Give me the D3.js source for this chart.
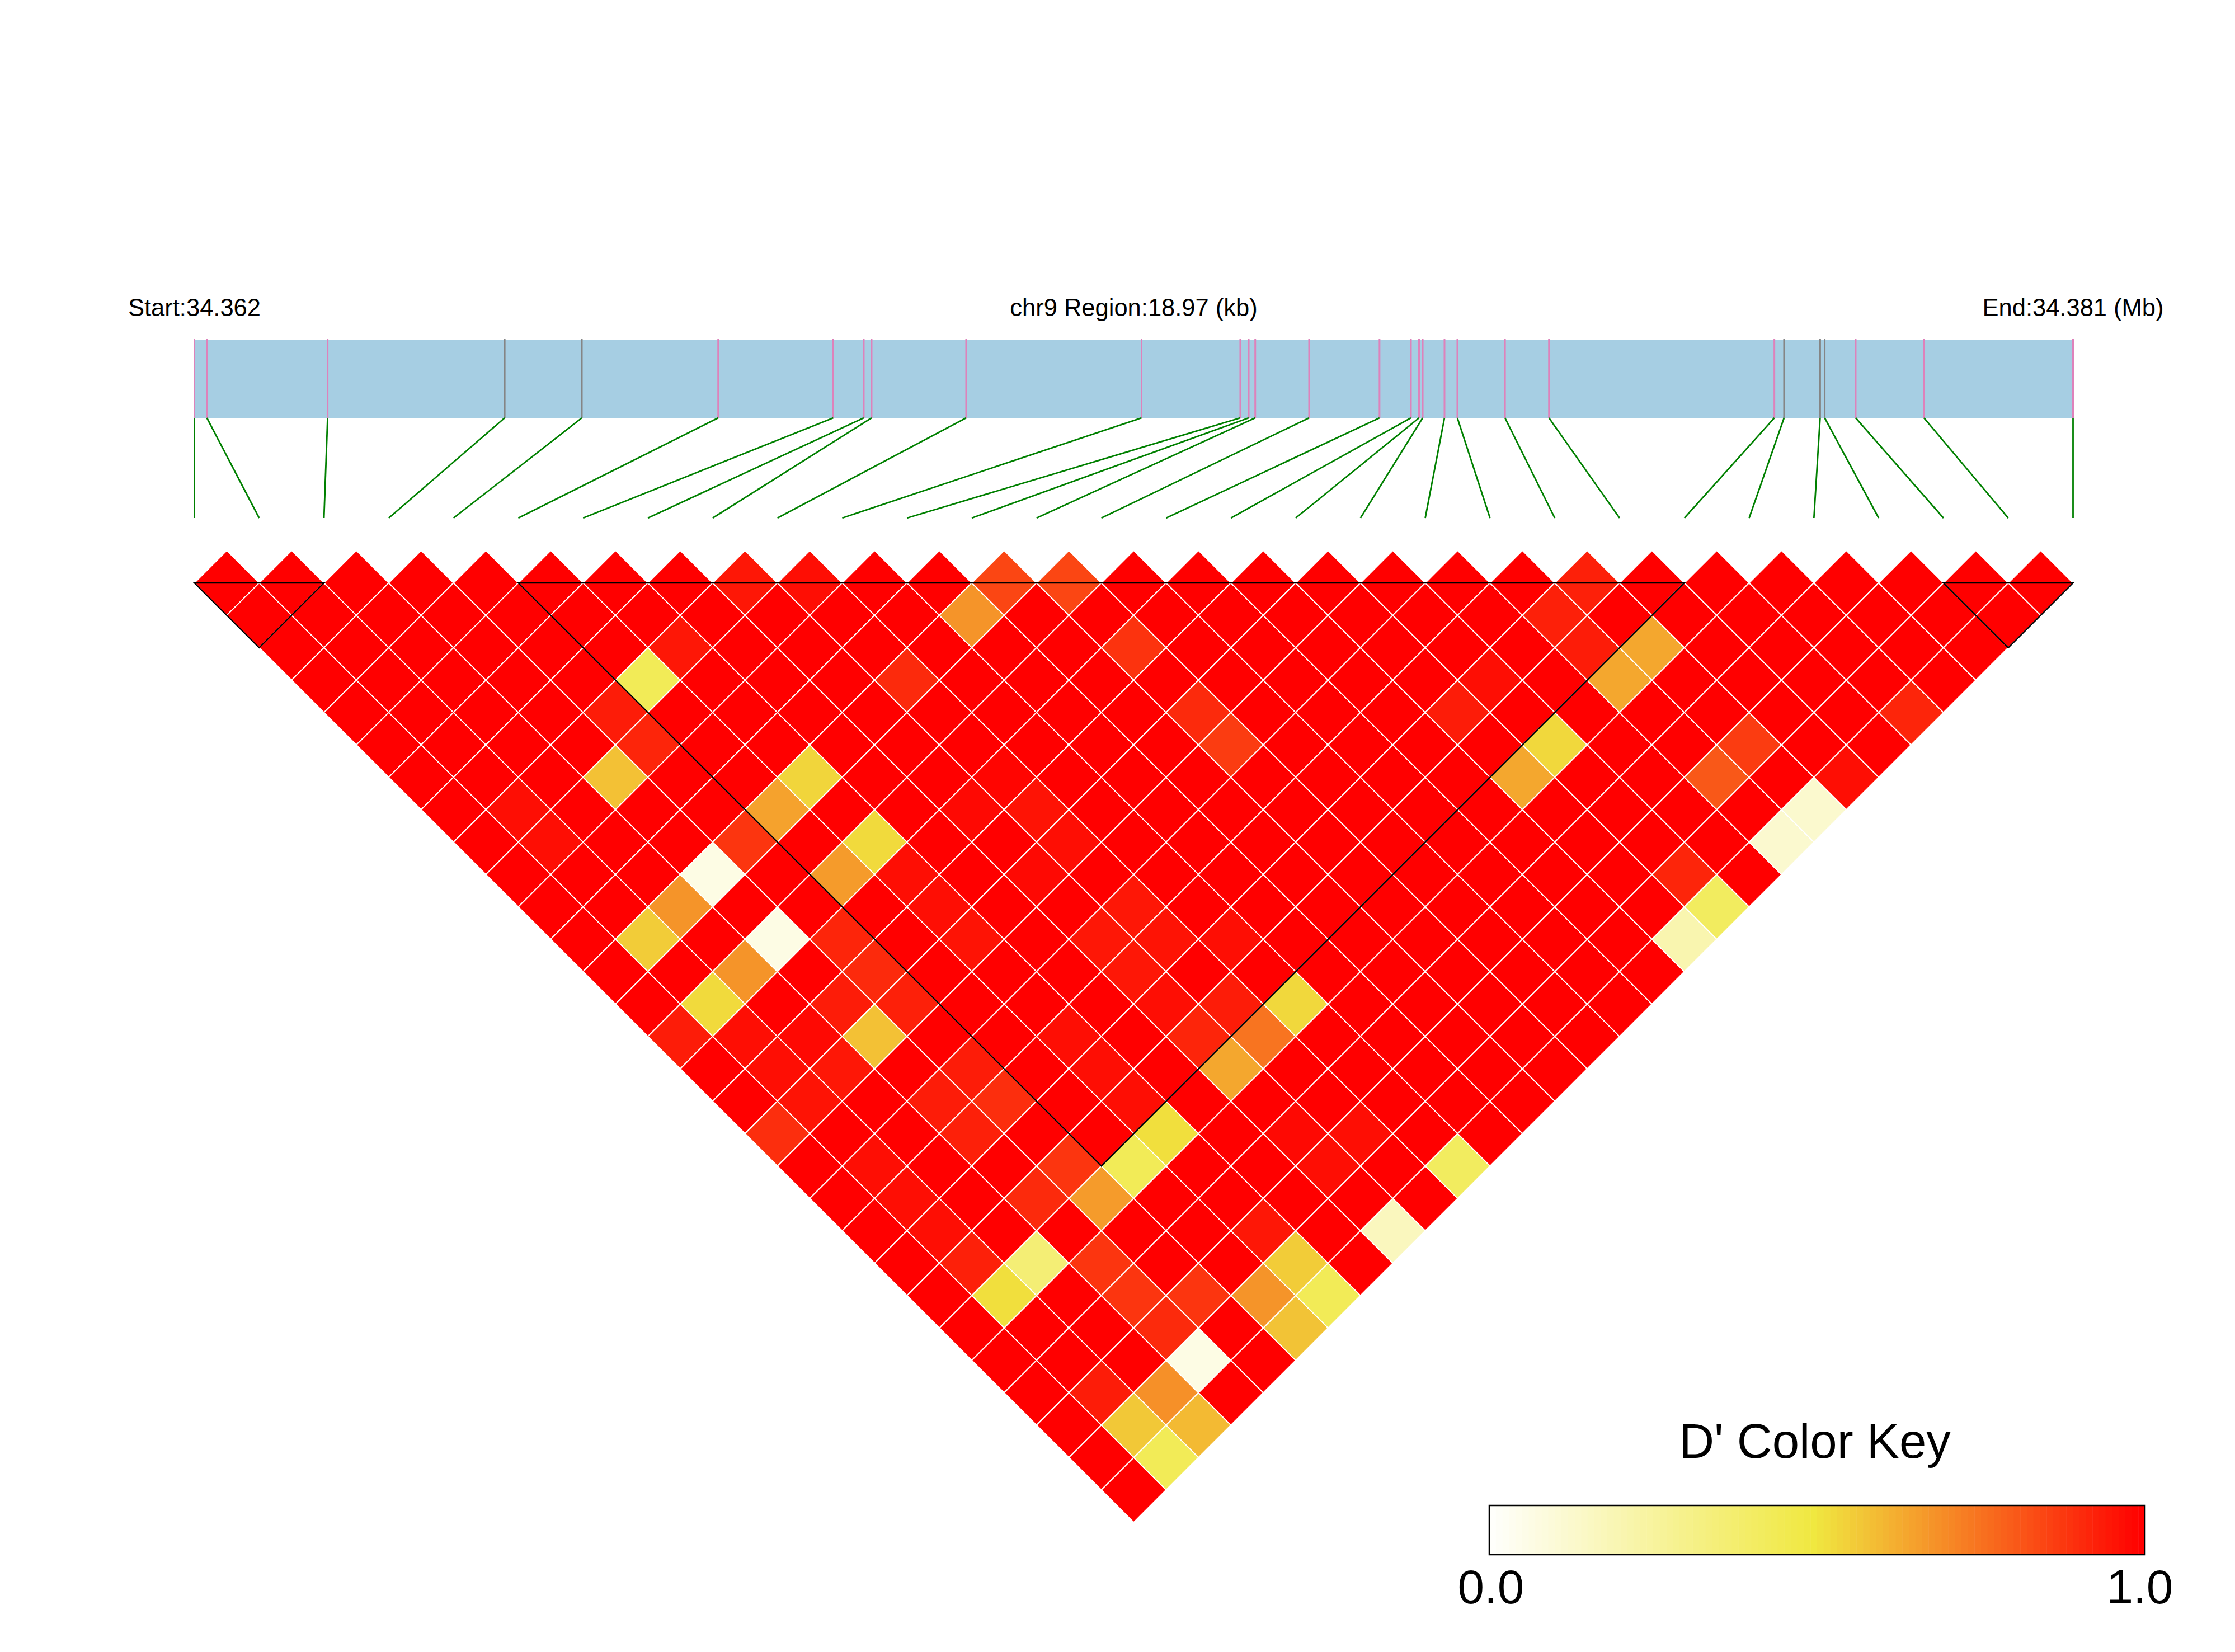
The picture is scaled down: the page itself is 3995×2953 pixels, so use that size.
<!DOCTYPE html>
<html lang="en">

<head>
    <meta charset="UTF-8">
    <script src="https://cdnjs.cloudflare.com/ajax/libs/d3/7.8.5/d3.min.js"></script>
    <title>LD heatmap chr9</title>
    <style>
        body { margin: 0; background: #fff; }
        svg { display: block; }
        text { font-family: "Liberation Sans", Arial, sans-serif; fill: #000; }
    </style>
</head>

<body>
    <div id="content"></div>
    <script>
        // SNP positions in kb from region start
        const snpPos = [0, 0.126, 1.345, 3.133, 3.912, 5.289, 6.451, 6.759, 6.838, 7.793,
            9.564, 10.561, 10.646, 10.712, 11.256, 11.967, 12.284, 12.366, 12.403, 12.623,
            12.753, 13.234, 13.678, 15.954, 16.052, 16.416, 16.462, 16.775, 17.465, 18.97];
        // SNPs whose tick on the bar is grey, the others are pink
        const greySnps = [3, 4, 24, 25, 26];
        const regionKb = 18.97;
        const headerLabels = ['Start:34.362', 'chr9 Region:18.97 (kb)', 'End:34.381 (Mb)'];
        // LD blocks, first and last SNP
        const blocks = [[0, 2], [5, 23], [27, 29]];
        // pairs [i, j, D'] below 1, every other pair is 1.0
        const lowCells = [
            [12, 13, .85], [13, 14, .85], [21, 22, .93], [8, 9, .95], [9, 10, .97],
            [11, 13, .68], [20, 22, .93], [21, 24, .64], [13, 16, .89], [6, 9, .95], [20, 23, .94],
            [5, 9, .44], [9, 13, .91], [18, 22, .97], [20, 24, .64], [4, 9, .94], [13, 18, .91], [17, 22, .94], [24, 29, .92],
            [4, 10, .92], [13, 19, .87], [18, 24, .535], [21, 27, .87],
            [3, 10, .585], [6, 13, .54], [9, 16, .99], [17, 24, .64], [20, 27, .81], [22, 29, .97],
            [5, 13, .65], [1, 9, .97], [8, 16, .98], [9, 17, .96], [21, 29, .127],
            [4, 13, .885], [6, 15, .53], [1, 10, .97], [9, 18, .97], [20, 29, .125],
            [3, 13, .07], [5, 15, .665], [6, 16, .97], [8, 18, .98], [18, 28, .92],
            [2, 13, .68], [6, 17, .97], [9, 20, .95], [18, 29, .42],
            [1, 13, .56], [3, 15, .07], [4, 16, .92], [6, 18, .96], [8, 20, .95], [9, 21, .96], [10, 22, .97], [17, 29, .21],
            [2, 15, .68], [4, 17, .91], [8, 21, .95], [1, 16, .97],
            [1, 15, .53], [3, 17, .94], [4, 18, .93], [8, 22, .97], [9, 23, .94], [10, 24, .535],
            [0, 15, .94], [3, 18, .585], [2, 17, .98], [6, 21, .97], [8, 23, .92], [9, 24, .75],
            [1, 17, .97], [2, 18, .95], [4, 20, .94], [6, 22, .97], [8, 24, .64],
            [1, 18, .96], [3, 20, .94], [4, 21, .9], [6, 23, .97],
            [0, 18, .9], [3, 21, .93], [6, 24, .52], [9, 27, .97], [8, 26, .98],
            [1, 20, .97], [4, 23, .885], [5, 24, .44], [8, 27, .97], [10, 29, .42],
            [1, 21, .97], [3, 23, .91], [4, 24, .665],
            [1, 22, .97], [6, 27, .95], [8, 29, .17],
            [2, 24, .36], [3, 25, .885], [1, 23, .93], [6, 28, .56],
            [1, 24, .52], [3, 26, .885], [4, 27, .885], [5, 28, .68], [6, 29, .44],
            [3, 27, .91], [5, 29, .58],
            [3, 28, .07],
            [1, 27, .94], [2, 28, .69],
            [1, 28, .57], [2, 29, .6],
            [1, 29, .44]
        ];
        const keyTicks = [0, 1];
        const keyTitle = "D' Color Key";

        const width = 3995;
        const height = 2953;
        const n = snpPos.length;

        const svg = d3.select('#content')
            .append('svg')
            .attr('width', width)
            .attr('height', height);

        const xSnp = d3.scaleLinear().domain([0, n - 1]).range([347.5, 3705.5]);
        const xKb = d3.scaleLinear().domain([0, regionKb]).range([347.5, 3705.5]);
        const yRow = d3.scaleLinear().domain([0, n - 1]).range([1042, 1042 + 57.9 * (n - 1)]);
        const color = d3.scaleLinear().domain([0, 0.5, 1]).range(['#FFFFFF', '#F0E840', '#FF0000']);

        //Region bar
        svg.append('rect')
            .attr('x', xKb(0))
            .attr('y', 607)
            .attr('width', xKb(regionKb) - xKb(0))
            .attr('height', 140)
            .style('fill', '#A6CEE3');
        svg.selectAll('line.tick')
            .data(snpPos)
            .enter()
            .append('line')
            .attr('class', 'tick')
            .attr('x1', d => xKb(d))
            .attr('x2', d => xKb(d))
            .attr('y1', 606)
            .attr('y2', 747)
            .style('stroke', (d, i) => greySnps.includes(i) ? '#858585' : '#DE82BB')
            .style('stroke-width', 3);

        //Connectors
        svg.selectAll('line.link')
            .data(snpPos)
            .enter()
            .append('line')
            .attr('class', 'link')
            .attr('x1', d => xKb(d))
            .attr('x2', (d, i) => xSnp(i))
            .attr('y1', 747)
            .attr('y2', 926)
            .style('stroke', '#008000')
            .style('stroke-width', 2.8);

        //Header
        svg.selectAll('text.head')
            .data(headerLabels)
            .enter()
            .append('text')
            .attr('class', 'head')
            .attr('x', (d, i) => [xKb(0), (xKb(0) + xKb(regionKb)) / 2, xKb(regionKb)][i])
            .attr('y', 565)
            .attr('text-anchor', 'middle')
            .style('font-size', '43.5px')
            .text(d => d);

        //Cells
        const lookup = new Map(lowCells.map(c => [c[0] + '-' + c[1], c[2]]));
        const pairs = d3.range(n).flatMap(i => d3.range(i + 1, n).map(j => ({ i, j, v: lookup.get(i + '-' + j) ?? 1 })));
        const cellPath = d3.line();
        svg.selectAll('path.cell')
            .data(pairs)
            .enter()
            .append('path')
            .attr('class', 'cell')
            .attr('d', o => {
                const c = (o.i + o.j) / 2;
                const r = o.j - o.i - 1;
                return cellPath([
                    [xSnp(c), yRow(r - 1)],
                    [xSnp(c + 0.5), yRow(r)],
                    [xSnp(c), yRow(r + 1)],
                    [xSnp(c - 0.5), yRow(r)]
                ]) + 'Z';
            })
            .style('fill', o => color(o.v))
            .style('stroke', '#fff')
            .style('stroke-width', 2);

        //Blocks
        svg.selectAll('path.block')
            .data(blocks)
            .enter()
            .append('path')
            .attr('class', 'block')
            .attr('d', b => cellPath([
                [xSnp(b[0]), yRow(0)],
                [xSnp(b[1]), yRow(0)],
                [xSnp((b[0] + b[1]) / 2), yRow(b[1] - b[0])]
            ]) + 'Z')
            .style('fill', 'none')
            .style('stroke', '#000')
            .style('stroke-width', 2.4);

        //Color key
        const xKey = d3.scaleLinear().domain([0, 1]).range([2662, 3834]);
        const xKeyLabel = d3.scaleLinear().domain([0, 1]).range([2665, 3825]);
        const steps = d3.range(100).map(k => k / 100);
        const key = svg.append('g').attr('id', 'key');
        key.selectAll('rect.step')
            .data(steps)
            .enter()
            .append('rect')
            .attr('class', 'step')
            .attr('x', d => xKey(d))
            .attr('y', 2691)
            .attr('width', xKey(0.01) - xKey(0) + 0.5)
            .attr('height', 88)
            .style('fill', d => color(d + 0.01));
        key.append('rect')
            .attr('x', xKey(0))
            .attr('y', 2691)
            .attr('width', xKey(1) - xKey(0))
            .attr('height', 88)
            .style('fill', 'none')
            .style('stroke', '#000')
            .style('stroke-width', 2.5);
        key.append('text')
            .attr('x', 3244)
            .attr('y', 2606)
            .attr('text-anchor', 'middle')
            .style('font-size', '87px')
            .text(keyTitle);
        key.selectAll('text.ticklabel')
            .data(keyTicks)
            .enter()
            .append('text')
            .attr('class', 'ticklabel')
            .attr('x', d => xKeyLabel(d))
            .attr('y', 2866)
            .attr('text-anchor', 'middle')
            .style('font-size', '85.5px')
            .text(d => d.toFixed(1));
    </script>
</body>

</html>
